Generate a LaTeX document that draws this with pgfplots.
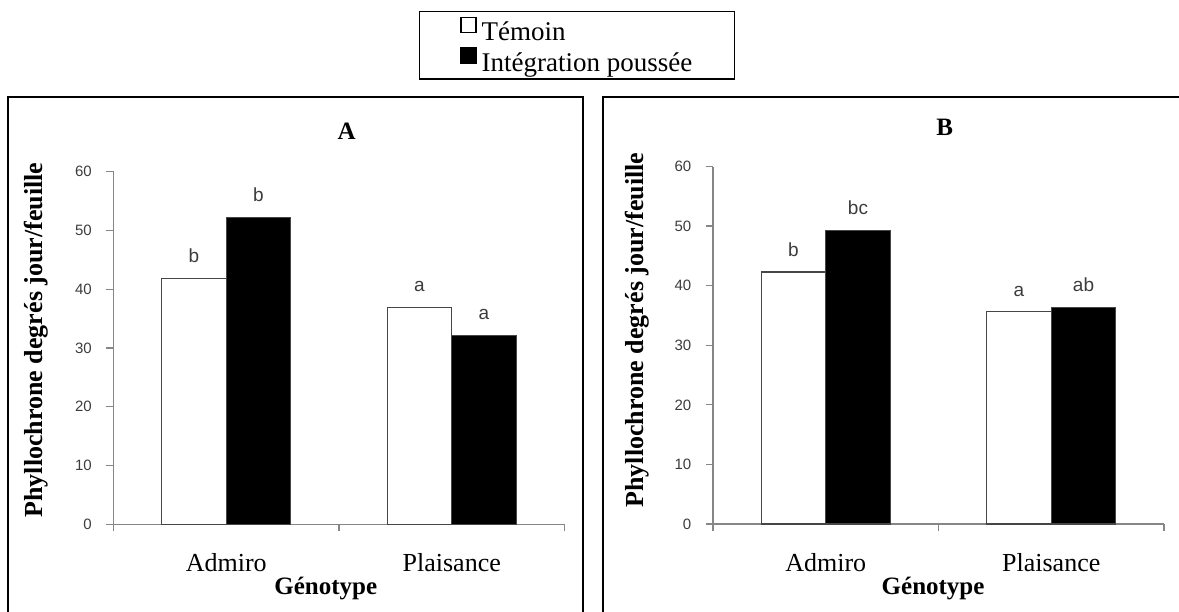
\documentclass[border=0pt]{standalone}
\usepackage{fontspec}
\setmainfont{Liberation Serif}
\newfontfamily\arialfont{Liberation Sans}
\usepackage{pgfplots}
\usepackage{pgfplotstable}
\pgfplotsset{compat=1.18}

\definecolor{axisgray}{RGB}{134,134,134}
\definecolor{textgray}{RGB}{60,60,60}
\definecolor{barline}{RGB}{70,70,70}

\pgfplotstableread{
x tem ltem int lint
0 41.9 b 52.2 b
1 36.9 a 32.1 a
}\dataA
\pgfplotstableread{
x tem ltem int lint
0 42.3 b 49.3 bc
1 35.6 a 36.4 ab
}\dataB

\newcommand\sz[1]{\fontsize{#1}{#1}\selectfont}

\pgfplotsset{
  panel/.style={
    scale only axis, width=451pt,
    xmin=-0.5, xmax=1.5, ymin=0, ymax=60,
    ytick={0,10,20,30,40,50,60},
    xtick={-0.5,0.5,1.5}, xticklabels={},
    axis x line=bottom, axis y line=left,
    axis line style={-, draw=axisgray, line width=1.3pt},
    tick style={draw=axisgray, line width=1.3pt},
    tick align=outside, major tick length=7pt,
    /pgf/number format/assume math mode=true,
    yticklabel style={font=\arialfont\sz{15}, text=textgray, inner sep=0pt, xshift=-14.5pt},
    ybar=0pt, bar width=64.5pt,
    nodes near coords, point meta=explicit symbolic,
    every node near coord/.append style={font=\arialfont\sz{19}, text=textgray, inner sep=0pt, yshift=15pt},
    xlabel={Génotype},
    ylabel={Phyllochrone degrés jour/feuille},
    label style={font=\bfseries\sz{26}},
    xlabel style={font=\bfseries\sz{25}},
    title style={font=\bfseries\sz{25}, anchor=center},
    clip=false,
  },
  sqlegend/.style={legend image code/.code={\draw[##1, line width=1.2pt, draw=black] (0pt,0pt) rectangle (15pt,15pt);}},
  tembar/.style={fill=white, draw=barline, line width=1.1pt, sqlegend},
  intbar/.style={fill=black, draw=barline, line width=1.1pt, sqlegend},
}

\begin{document}
\begin{tikzpicture}
\useasboundingbox (0pt,0pt) rectangle (1179pt,-611pt);

\begin{axis}[panel, height=352.5pt, at={(113.5pt,-524.3pt)}, anchor=south west,
  title={A}, title style={at={(axis description cs:0.517,1.0987)}},
  xlabel style={at={(axis description cs:0.4707,0)}, anchor=base, yshift=-70pt},
  ylabel style={at={(axis description cs:-0.1584,0.5228)}, anchor=base},
  legend style={at={(axis description cs:0.6766,1.4562)}, anchor=north west,
    draw=black, line width=1.5pt, font=\sz{27}, inner xsep=41pt, inner ysep=5pt,
    row sep=4pt, column sep=4pt, nodes={inner sep=1pt}, cells={anchor=west}},
  legend cell align=left]
\addplot[tembar] table[x=x,y=tem,meta=ltem]{\dataA};
\addplot[intbar] table[x=x,y=int,meta=lint]{\dataA};
\legend{Témoin, Intégration poussée}
\node[font=\sz{26}, anchor=base, yshift=-46.7pt] at (axis cs:0,0) {Admiro};
\node[font=\sz{26}, anchor=base, yshift=-46.7pt] at (axis cs:1,0) {Plaisance};
\end{axis}

\begin{axis}[panel, height=357.5pt, at={(713pt,-524pt)}, anchor=south west,
  title={B}, title style={at={(axis description cs:0.514,1.0937)}},
  xlabel style={at={(axis description cs:0.488,0)}, anchor=base, yshift=-70pt},
  ylabel style={at={(axis description cs:-0.1552,0.5427)}, anchor=base}]
\addplot[tembar] table[x=x,y=tem,meta=ltem]{\dataB};
\addplot[intbar] table[x=x,y=int,meta=lint]{\dataB};
\node[font=\sz{26}, anchor=base, yshift=-47pt] at (axis cs:0,0) {Admiro};
\node[font=\sz{26}, anchor=base, yshift=-47pt] at (axis cs:1,0) {Plaisance};
\end{axis}

\draw[line width=2pt] (8pt,-700pt) -- (8pt,-97pt) -- (583pt,-97pt) -- (583pt,-700pt);
\draw[line width=2pt] (603pt,-700pt) -- (603pt,-97pt) -- (1200pt,-97pt);
\end{tikzpicture}
\end{document}
